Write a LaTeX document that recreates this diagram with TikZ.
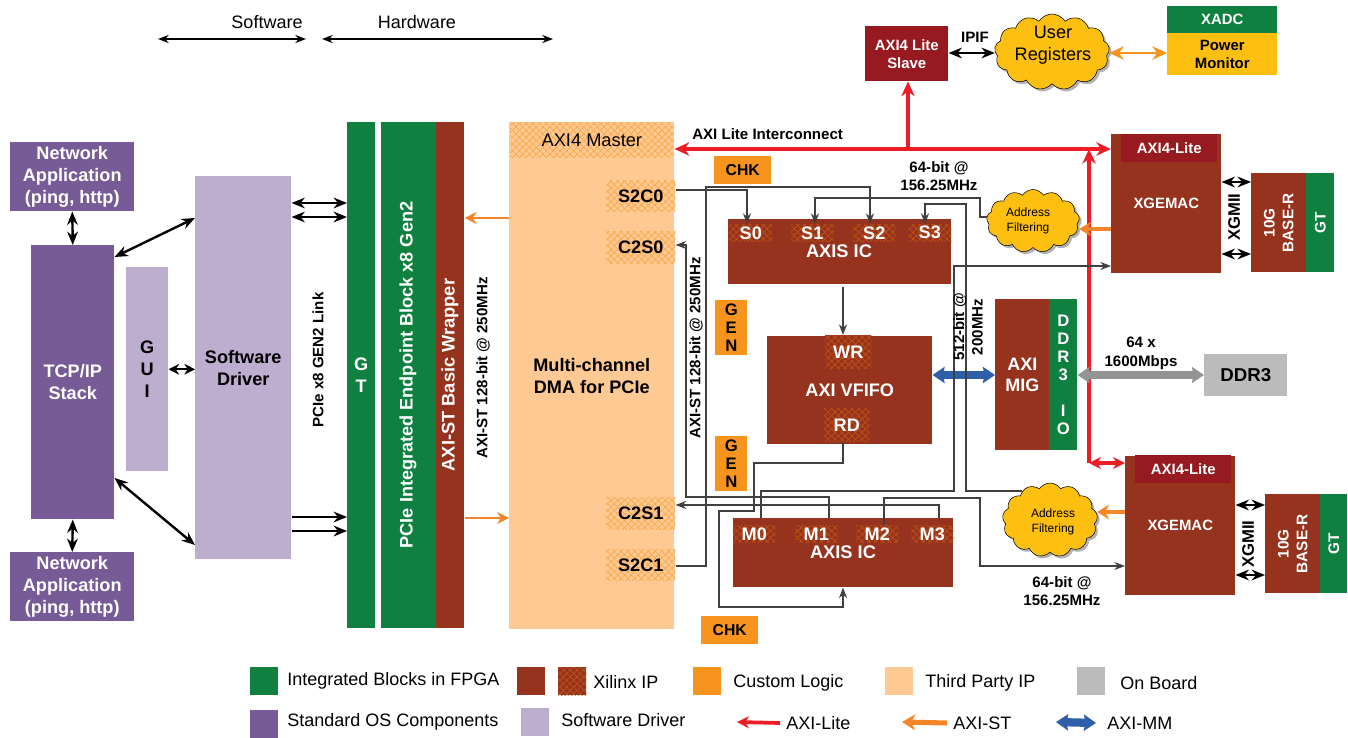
\documentclass[tikz,border=0pt]{standalone}
\usepackage{fontspec}
\setmainfont{Liberation Sans}
\usetikzlibrary{arrows.meta,patterns.meta,shapes.symbols,shadows}
\definecolor{fpgagreen}{RGB}{15,128,64}
\definecolor{ipbrown}{RGB}{150,51,30}
\definecolor{litered}{RGB}{150,26,31}
\definecolor{ospurple}{RGB}{118,91,150}
\definecolor{swlilac}{RGB}{189,174,208}
\definecolor{peach}{RGB}{255,201,147}
\definecolor{logicorange}{RGB}{247,148,30}
\definecolor{boardgray}{RGB}{187,187,187}
\definecolor{cloudyellow}{RGB}{253,191,16}
\definecolor{axilite}{RGB}{238,28,37}
\definecolor{axist}{RGB}{245,133,41}
\definecolor{aximm}{RGB}{46,95,168}
\tikzset{
	wh/.style 2 args={minimum width=#1*0.75pt,minimum height=#2*0.75pt},
	box/.style={anchor=north west,inner sep=0pt,align=center,font=\bfseries\fontsize{13.6}{16.5}\selectfont},
	small/.style={font=\bfseries\fontsize{11.2}{13.5}\selectfont},
	wbox/.style={box,text=white},
	hatchbrown/.style={box,text=white,preaction={fill=ipbrown},
		preaction={pattern={Lines[angle=45,distance=3.6pt,line width=0.5pt]},pattern color=ipbrown!60!orange},
		pattern={Lines[angle=-45,distance=3.6pt,line width=0.5pt]},pattern color=ipbrown!60!orange},
	hatchpeach/.style={box,preaction={fill=peach},
		preaction={pattern={Lines[angle=45,distance=3.6pt,line width=0.5pt]},pattern color=logicorange!65!peach},
		pattern={Lines[angle=-45,distance=3.6pt,line width=0.5pt]},pattern color=logicorange!65!peach},
	lbl/.style={inner sep=0pt,align=center,font=\bfseries\fontsize{11.3}{14}\selectfont},
	plain/.style={inner sep=0pt,anchor=west,font=\fontsize{13.5}{15}\selectfont},
	blob/.style={cloud,cloud puffs=13,cloud puff arc=115,cloud ignores aspect,draw=black,fill=cloudyellow,inner sep=0pt,
		drop shadow={shadow xshift=1.8pt,shadow yshift=-1.8pt,fill=black!60}},
	sigline/.style={draw=black!75,line width=0.9pt},
	sig/.style={sigline,-{Stealth[length=8pt,width=6pt]}},
	link/.style={draw=black,line width=1.8pt,{Stealth[length=10pt,width=8pt]}-{Stealth[length=10pt,width=8pt]}},
	onelink/.style={draw=black,line width=2pt,-{Stealth[length=10pt,width=8pt]}},
	span/.style={draw=black,line width=1.3pt,{Stealth[length=8pt,width=6pt]}-{Stealth[length=8pt,width=6pt]}},
	lite/.style={draw=axilite,line width=2.3pt},
	st/.style={draw=axist,line width=2pt,-{Stealth[length=9pt,width=9pt]}},
	stfat/.style={draw=axist,line width=3.2pt,-{Stealth[length=9pt,width=11pt]}},
	mm/.style={line width=6.2pt,{Stealth[length=9pt,width=12pt,inset=1pt]}-{Stealth[length=9pt,width=12pt,inset=1pt]}}
}
\begin{document}
\begin{tikzpicture}[x=0.75pt,y=0.75pt,yscale=-1,xscale=1]
	\useasboundingbox (0,0) rectangle (1348,738);

	%Host side
	\node[wbox,fill=ospurple,wh={124}{69}] (netAppTop) at (10,142) {Network\\Application\\(ping, http)};
	\node[wbox,fill=ospurple,wh={83}{274}] (tcpStack) at (31,245) {TCP/IP\\Stack};
	\node[wbox,fill=ospurple,wh={124}{69}] (netAppBot) at (10,552) {Network\\Application\\(ping, http)};
	\node[box,fill=swlilac,wh={42}{204}] (gui) at (126,267) {G\\U\\I};
	\node[box,fill=swlilac,wh={96}{383}] (swDriver) at (195,176) {Software\\Driver};

	%PCIe columns
	\node[wbox,fill=fpgagreen,wh={28}{506}] (gtPcie) at (347,122) {G\\T};
	\node[box,fill=fpgagreen,wh={55}{506}] (pcieBlock) at (381,122) {};
	\node[box,fill=ipbrown,wh={28}{506}] (wrapper) at (436,122) {};

	%DMA
	\node[box,fill=peach,wh={165}{507}] (dma) at (509,122) {Multi-channel\\DMA for PCIe};
	\node[hatchpeach,wh={163}{35},font=\fontsize{13.7}{15}\selectfont] (axiMaster) at (510,122) {AXI4 Master};
	\node[hatchpeach,wh={69}{31}] (s2c0) at (606,180) {S2C0};
	\node[hatchpeach,wh={69}{32}] (c2s0) at (606,231) {C2S0};
	\node[hatchpeach,wh={69}{32}] (c2s1) at (606,497) {C2S1};
	\node[hatchpeach,wh={69}{31}] (s2c1) at (606,549) {S2C1};

	%Custom logic
	\node[box,fill=logicorange,wh={57}{28},font=\bfseries\fontsize{11.8}{14}\selectfont] (chkTop) at (714,156) {CHK};
	\node[box,fill=logicorange,wh={32}{55},font=\bfseries\fontsize{12.5}{13.8}\selectfont] (genTop) at (715,300) {G\\E\\N};
	\node[box,fill=logicorange,wh={32}{55},font=\bfseries\fontsize{12.5}{13.8}\selectfont] (genBot) at (715,436) {G\\E\\N};
	\node[box,fill=logicorange,wh={57}{28},font=\bfseries\fontsize{11.8}{14}\selectfont] (chkBot) at (701,616) {CHK};

	%AXIS IC upper
	\node[box,fill=ipbrown,wh={223}{65}] (axisTop) at (728,219) {};
	\node[hatchbrown,wh={43}{17}] (s0) at (729,224) {S0};
	\node[hatchbrown,wh={42}{17}] (s1) at (791,224) {S1};
	\node[hatchbrown,wh={42}{17}] (s2) at (853,224) {S2};
	\node[hatchbrown,wh={43}{17}] (s3) at (908,224) {S3};
	%AXIS IC lower
	\node[box,fill=ipbrown,wh={220}{69}] (axisBot) at (733,518) {};
	\node[hatchbrown,wh={42}{17}] (m0) at (733,525) {M0};
	\node[hatchbrown,wh={42}{17}] (m1) at (795,525) {M1};
	\node[hatchbrown,wh={42}{17}] (m2) at (856,525) {M2};
	\node[hatchbrown,wh={42}{17}] (m3) at (911,525) {M3};
	%VFIFO and MIG
	\node[wbox,fill=ipbrown,wh={165}{108}] (vfifo) at (767,336) {AXI VFIFO};
	\node[hatchbrown,wh={46}{33}] (wr) at (825,335) {WR};
	\node[hatchbrown,wh={45}{33}] (rd) at (824,408) {RD};
	\node[wbox,fill=ipbrown,wh={54}{151},font=\bfseries\fontsize{13.5}{16}\selectfont] (mig) at (995,299) {AXI\\MIG};
	\node[wbox,fill=fpgagreen,wh={28}{151},font=\bfseries\fontsize{12.5}{13.5}\selectfont] (ddrIo) at (1049,299) {D\\D\\R\\3\\ \\I\\O};
	\node[box,fill=boardgray,wh={83}{42},font=\bfseries\fontsize{14}{16}\selectfont] (ddr3) at (1204,354) {DDR3};

	%Top row
	\node[wbox,small,fill=litered,wh={83}{55}] (liteSlave) at (865,26) {AXI4 Lite\\Slave};
	\node[blob,minimum width=115*0.75pt,minimum height=76*0.75pt] (userRegs) at (1052,52) {};
	\node[wbox,small,fill=fpgagreen,wh={110}{27}] (xadc) at (1167,6) {XADC};
	\node[box,small,fill=cloudyellow,wh={110}{42}] (power) at (1167,33) {Power\\Monitor};

	%MAC upper
	\node[wbox,fill=ipbrown,wh={110}{139},small] (macTop) at (1111,134) {XGEMAC};
	\node[wbox,small,fill=litered,wh={96}{28}] (liteTop) at (1121,134) {AXI4-Lite};
	\node[box,fill=ipbrown,wh={55}{99}] (tenTop) at (1251,173) {};
	\node[box,fill=fpgagreen,wh={28}{99}] (gtTop) at (1306,173) {};
	\node[blob,minimum width=93*0.75pt,minimum height=63*0.75pt] (filterTop) at (1033,221) {};
	%MAC lower
	\node[wbox,fill=ipbrown,wh={110}{139},small] (macBot) at (1125,456) {XGEMAC};
	\node[wbox,small,fill=litered,wh={96}{28}] (liteBot) at (1135,455) {AXI4-Lite};
	\node[box,fill=ipbrown,wh={55}{99}] (tenBot) at (1265,494) {};
	\node[box,fill=fpgagreen,wh={27}{99}] (gtBot) at (1320,494) {};
	\node[blob,minimum width=95*0.75pt,minimum height=74*0.75pt] (filterBot) at (1050,520) {};

	%Software / Hardware spans
	\coordinate (swL) at (158,39);
	\coordinate (swR) at (306,39);
	\coordinate (hwL) at (322,39);
	\coordinate (hwR) at (553,39);
	\draw[span] (swL) -- (swR);
	\draw[span] (hwL) -- (hwR);

	%Host links
	\draw[link] (netAppTop.south) -- (tcpStack.north);
	\draw[link] (tcpStack.south) -- (netAppBot.north);
	\draw[link] (tcpStack.east |- 0,257) -- (swDriver.west |- 0,218);
	\draw[link] (tcpStack.east |- 0,478) -- (swDriver.west |- 0,545);
	\draw[link,{Stealth[length=8pt,width=8pt]}-{Stealth[length=8pt,width=8pt]}] (gui.east) -- (swDriver.west |- gui.east);
	\draw[link] (swDriver.east |- 0,203) -- (gtPcie.west |- 0,203);
	\draw[link] (swDriver.east |- 0,217) -- (gtPcie.west |- 0,217);
	\draw[onelink] (swDriver.east |- 0,517) -- (gtPcie.west |- 0,517);
	\draw[onelink] (swDriver.east |- 0,531) -- (gtPcie.west |- 0,531);
	\draw[st] (dma.west |- 0,218) -- (wrapper.east |- 0,218);
	\draw[st] (wrapper.east |- 0,518) -- (dma.west |- 0,518);

	%AXI lite
	\draw[lite,{Stealth[length=11pt,width=10pt]}-{Stealth[length=11pt,width=10pt]}] (dma.east |- 0,149) -- (macTop.west |- 0,149);
	\draw[lite,-{Stealth[length=11pt,width=10pt]}] (908,149) -- (liteSlave.south -| 908,0);
	\draw[lite,-{Stealth[length=11pt,width=10pt]}] (1089,463) -- (1089,149);
	\draw[lite,{Stealth[length=9pt,width=9pt]}-{Stealth[length=9pt,width=9pt]}] (1089,463) -- (macBot.west |- 0,463);

	%AXI MM and board
	\draw[mm,aximm] (vfifo.east |- 0,375) -- (mig.west |- 0,375);
	\draw[mm,black!42] (ddrIo.east |- 0,375) -- (ddr3.west |- 0,375);
	\draw[link,line width=2.2pt] (liteSlave.east |- 0,53) -- (userRegs.west |- 0,53);
	\draw[draw=logicorange,line width=1.8pt,{Stealth[length=11pt,width=10pt]}-{Stealth[length=11pt,width=10pt]}] (userRegs.east |- 0,53) -- (xadc.west |- 0,53);
	\draw[stfat] (macTop.west |- 0,229) -- (filterTop.east |- 0,229);
	\draw[stfat] (macBot.west |- 0,512) -- (filterBot.east |- 0,512);

	%XGMII
	\draw[link] (macTop.east |- 0,182) -- (tenTop.west |- 0,182);
	\draw[link] (macTop.east |- 0,254) -- (tenTop.west |- 0,254);
	\draw[link] (macBot.east |- 0,505) -- (tenBot.west |- 0,505);
	\draw[link] (macBot.east |- 0,575) -- (tenBot.west |- 0,575);

	%Stream connections
	\draw[sig] (s2c0.east |- 0,190) -- (747,190) -- (s0.north -| 747,0);
	\draw[sig] (s2c1.east |- 0,566) -- (706,566) -- (706,187) -- (870,187) -- (s2.north -| 870,0);
	\draw[sig] (filterTop.west |- 0,217) -- (980,217) -- (980,198) -- (815,198) -- (s1.north -| 815,0);
	\draw[sig] (1022,491) -- (966,491) -- (966,204) -- (925,204) -- (s3.north -| 925,0);
	\draw[sig] (axisBot.north -| 761,0) -- (761,491) -- (954,491) -- (954,266) -- (macTop.west |- 0,266);
	\draw[sig] (m2.north -| 884,0) -- (884,498) -- (980,498) -- (980,566) -- (macBot.west |- 0,566);
	\draw[sig] (axisBot.north -| 829,0) -- (829,497) -- (686,497) -- (686,245) -- (c2s0.east |- 0,245);
	\draw[sig] (axisBot.north -| 939,0) -- (939,505) -- (c2s1.east |- 0,505);
	\draw[sig] (rd.south -| 843,0) -- (843,463) -- (754,463) -- (754,511) -- (719,511) -- (719,607) -- (843,607) -- (axisBot.south -| 843,0);
	\draw[sig] (843,287) -- (wr.north -| 843,0);

	% Text Node
	\node[plain,anchor=center] (swText) at (267,22) {Software};
	\node[plain,anchor=center] (hwText) at (417,22) {Hardware};
	\node[lbl,rotate=90] (linkText) at (318,360) {PCIe x8 GEN2 Link};
	\node[lbl,rotate=90,text=white,font=\bfseries\fontsize{13.6}{16}\selectfont] (pcieText) at (408,375) {PCIe Integrated Endpoint Block x8 Gen2};
	\node[lbl,rotate=90,text=white,font=\bfseries\fontsize{13.7}{16}\selectfont] (wrapperText) at (450,375) {AXI-ST Basic Wrapper};
	\node[lbl,rotate=90] (stLeft) at (483,368) {AXI-ST 128-bit @ 250MHz};
	\node[lbl,rotate=90] (stRight) at (696,348) {AXI-ST 128-bit @ 250MHz};
	\node[lbl,anchor=west] (liteText) at (692,134) {AXI Lite Interconnect};
	\node[lbl] (clkTop) at (939,176) {64-bit @\\156.25MHz};
	\node[lbl] (clkBot) at (1062,591) {64-bit @\\156.25MHz};
	\node[lbl,rotate=90] (clkMm) at (968,327) {512-bit @\\200MHz};
	\node[lbl] (ddrRate) at (1141,353) {64 x\\1600Mbps};
	\node[lbl] (ipifText) at (975,37) {IPIF};
	\node[lbl,rotate=90,font=\bfseries\fontsize{12.5}{14}\selectfont] (xgmiiTop) at (1234,217) {XGMII};
	\node[lbl,rotate=90,font=\bfseries\fontsize{12.5}{14}\selectfont] (xgmiiBot) at (1248,544) {XGMII};
	\node[lbl,rotate=90,text=white,font=\bfseries\fontsize{11.5}{14}\selectfont] (tenTopText) at (tenTop.center) {10G\\BASE-R};
	\node[lbl,rotate=90,text=white,font=\bfseries\fontsize{11.5}{14}\selectfont] (gtTopText) at (gtTop.center) {GT};
	\node[lbl,rotate=90,text=white,font=\bfseries\fontsize{11.5}{14}\selectfont] (tenBotText) at (tenBot.center) {10G\\BASE-R};
	\node[lbl,rotate=90,text=white,font=\bfseries\fontsize{11.5}{14}\selectfont] (gtBotText) at (gtBot.center) {GT};
	\node[lbl,text=white,font=\bfseries\fontsize{13.7}{15}\selectfont] (axisTopText) at (839,251) {AXIS IC};
	\node[lbl,text=white,font=\bfseries\fontsize{13.7}{15}\selectfont] (axisBotText) at (843,552) {AXIS IC};
	\node[inner sep=0pt,align=center,font=\fontsize{13.6}{17}\selectfont] (userText) at (1053,45) {User\\Registers};
	\node[inner sep=0pt,align=center,font=\fontsize{9}{11}\selectfont] (filterTopText) at (1028,221) {Address\\Filtering};
	\node[inner sep=0pt,align=center,font=\fontsize{9}{11}\selectfont] (filterBotText) at (1053,522) {Address\\Filtering};

	%Legend
	\node[box,fill=fpgagreen,wh={28}{28}] (keyGreen) at (250,667) {};
	\node[plain] (keyGreenText) at (287,681) {Integrated Blocks in FPGA};
	\node[box,fill=ipbrown,wh={28}{28}] (keyBrown) at (517,667) {};
	\node[hatchbrown,wh={28}{28}] (keyHatch) at (558,667) {};
	\node[plain] (keyHatchText) at (593,682) {Xilinx IP};
	\node[box,fill=logicorange,wh={28}{28}] (keyOrange) at (693,667) {};
	\node[plain] (keyOrangeText) at (733,683) {Custom Logic};
	\node[box,fill=peach,wh={28}{28}] (keyPeach) at (885,667) {};
	\node[plain] (keyPeachText) at (925,683) {Third Party IP};
	\node[box,fill=boardgray,wh={28}{28}] (keyGray) at (1077,667) {};
	\node[plain] (keyGrayText) at (1120,683) {On Board};
	\node[box,fill=ospurple,wh={28}{28}] (keyPurple) at (250,710) {};
	\node[plain] (keyPurpleText) at (287,722) {Standard OS Components};
	\node[box,fill=swlilac,wh={28}{28}] (keyLilac) at (521,708) {};
	\node[plain] (keyLilacText) at (561,720) {Software Driver};
	\node[plain] (keyLiteText) at (786,723) {AXI-Lite};
	\node[plain] (keyStText) at (953,723) {AXI-ST};
	\node[plain] (keyMmText) at (1107,723) {AXI-MM};
	\coordinate (keyLiteEnd) at (737,722);
	\coordinate (keyStEnd) at (902,722);
	\coordinate (keyMmEnd) at (1056,722);
	\draw[lite,line width=2.8pt,-{Stealth[length=9pt,width=9pt]}] (keyLiteText.west -| 780,0) -- (keyLiteEnd);
	\draw[st,line width=3.8pt,-{Stealth[length=10pt,width=12pt]}] (keyStText.west -| 947,0) -- (keyStEnd);
	\draw[mm,aximm] (keyMmEnd) -- (keyMmText.west -| 1096,0);
\end{tikzpicture}
\end{document}
